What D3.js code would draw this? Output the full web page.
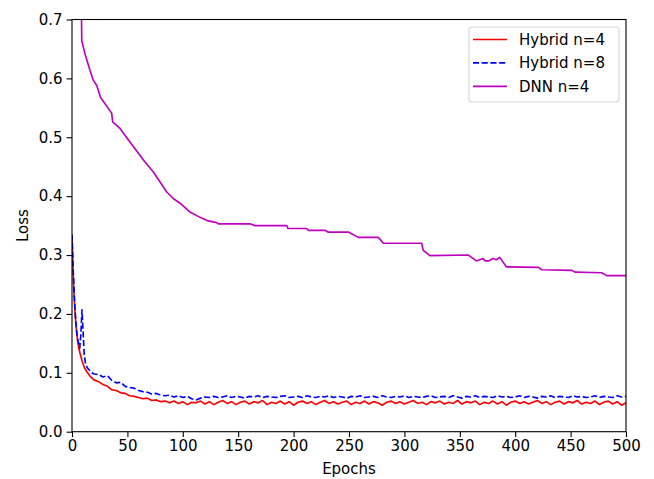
<!DOCTYPE html>
<html>
<head>
    <title>Loss vs Epochs</title>
    <style>
        body { margin: 0; background: #fff; }
        text { font-family: "DejaVu Sans", sans-serif; fill: #000; }
        .axis path, .axis line { stroke: #000; }
    </style>
</head>
<body>
    <script src="https://d3js.org/d3.v7.min.js"></script>
    <script>
        // Chart size and plot area
        const width = 654;
        const height = 479;
        const margin = {top: 19.5, right: 28, bottom: 47.3, left: 72};

        // Tick values
        const xTicks = [0, 50, 100, 150, 200, 250, 300, 350, 400, 450, 500];
        const yTicks = [0.0, 0.1, 0.2, 0.3, 0.4, 0.5, 0.6, 0.7];

        // Hybrid runs: one value per epoch for 0..20, then every 4 epochs
        const hybridEpochs = d3.range(0, 21).concat(d3.range(24, 501, 4));

        const hybrid4Loss = [
            0.335, 0.270, 0.225, 0.195, 0.172, 0.155, 0.143, 0.135, 0.128, 0.121,
            0.115, 0.110, 0.106, 0.103, 0.100, 0.098, 0.095, 0.093, 0.091, 0.089, 0.088,
            0.085, 0.080, 0.077, 0.071, 0.070, 0.066, 0.065, 0.061, 0.060, 0.058,
            0.056, 0.057, 0.053, 0.054, 0.051, 0.052, 0.049, 0.052, 0.048, 0.051,
            0.046, 0.050, 0.049, 0.052, 0.047, 0.051, 0.046, 0.050, 0.053, 0.048,
            0.051, 0.046, 0.050, 0.052, 0.047, 0.051, 0.049, 0.053, 0.046, 0.050,
            0.048, 0.052, 0.047, 0.051, 0.045, 0.050, 0.052, 0.048, 0.051, 0.046,
            0.050, 0.053, 0.048, 0.051, 0.047, 0.050, 0.052, 0.046, 0.050, 0.048,
            0.052, 0.047, 0.051, 0.049, 0.045, 0.050, 0.052, 0.048, 0.051, 0.047,
            0.050, 0.053, 0.048, 0.050, 0.046, 0.051, 0.049, 0.052, 0.047, 0.050,
            0.048, 0.053, 0.047, 0.051, 0.049, 0.052, 0.046, 0.050, 0.048, 0.052,
            0.047, 0.051, 0.045, 0.050, 0.052, 0.048, 0.051, 0.047, 0.050, 0.053,
            0.048, 0.051, 0.046, 0.050, 0.052, 0.047, 0.051, 0.049, 0.053, 0.047,
            0.050, 0.048, 0.052, 0.046, 0.050, 0.052, 0.047, 0.051, 0.045, 0.049
        ];

        const hybrid8Loss = [
            0.335, 0.280, 0.235, 0.200, 0.175, 0.158, 0.150, 0.142, 0.165, 0.207,
            0.170, 0.132, 0.118, 0.112, 0.108, 0.106, 0.104, 0.102, 0.100, 0.099, 0.098,
            0.097, 0.093, 0.095, 0.087, 0.083, 0.084, 0.077, 0.075, 0.074, 0.070,
            0.068, 0.067, 0.064, 0.065, 0.062, 0.061, 0.062, 0.059, 0.061, 0.058,
            0.060, 0.056, 0.054, 0.057, 0.059, 0.058, 0.060, 0.058, 0.059, 0.061,
            0.058, 0.060, 0.059, 0.057, 0.060, 0.059, 0.061, 0.058, 0.060, 0.059,
            0.058, 0.060, 0.061, 0.058, 0.059, 0.060, 0.058, 0.061, 0.059, 0.058,
            0.060, 0.059, 0.061, 0.058, 0.060, 0.059, 0.057, 0.060, 0.059, 0.061,
            0.058, 0.059, 0.060, 0.058, 0.061, 0.059, 0.058, 0.060, 0.059, 0.061,
            0.058, 0.060, 0.059, 0.058, 0.060, 0.061, 0.058, 0.059, 0.060, 0.058,
            0.061, 0.059, 0.057, 0.060, 0.059, 0.061, 0.058, 0.060, 0.059, 0.058,
            0.061, 0.059, 0.060, 0.058, 0.059, 0.061, 0.058, 0.060, 0.059, 0.057,
            0.060, 0.059, 0.061, 0.058, 0.060, 0.059, 0.058, 0.061, 0.059, 0.060,
            0.058, 0.059, 0.061, 0.058, 0.060, 0.059, 0.058, 0.061, 0.059, 0.060
        ];

        // DNN run: breakpoints
        const dnnEpochs = [
            7, 8.8, 11.7, 16.2, 19.2, 22.3, 25.9, 35.8, 36.7, 43.3, 52.3, 65.9, 73.4,
            85.5, 91.4, 97.5, 106.5, 115.5, 123, 130.6, 132, 160.6, 165, 193.8, 195,
            211.8, 213.5, 228.3, 231, 249.4, 258.4, 276.4, 281, 315.6, 317, 323, 357.7,
            365, 368, 371, 373, 376, 380, 383, 386, 392, 421, 424, 451, 454, 478, 482.6, 500
        ];
        const dnnLoss = [
            1.000, 0.664, 0.642, 0.614, 0.597, 0.588, 0.567, 0.541, 0.526, 0.515, 0.492, 0.458, 0.441,
            0.407, 0.396, 0.388, 0.373, 0.364, 0.358, 0.355, 0.353, 0.353, 0.350, 0.350, 0.345,
            0.345, 0.342, 0.342, 0.339, 0.339, 0.330, 0.330, 0.320, 0.320, 0.308, 0.299, 0.300,
            0.290, 0.292, 0.294, 0.290, 0.290, 0.294, 0.292, 0.296, 0.280, 0.279, 0.275, 0.274, 0.271, 0.270, 0.265, 0.265
        ];

        const series = [
            {name: "Hybrid n=4", epochs: hybridEpochs, loss: hybrid4Loss, color: "#ff0000", dash: null},
            {name: "Hybrid n=8", epochs: hybridEpochs, loss: hybrid8Loss, color: "#0000ff", dash: "6.1,2.6"},
            {name: "DNN n=4", epochs: dnnEpochs, loss: dnnLoss, color: "#bf00bf", dash: null}
        ];

        const innerW = width - margin.left - margin.right;
        const innerH = height - margin.top - margin.bottom;

        const svg = d3.select("body")
            .append("svg")
            .attr("width", width)
            .attr("height", height);

        const g = svg.append("g")
            .attr("transform", `translate(${margin.left},${margin.top})`);

        const x = d3.scaleLinear().domain([0, 500]).range([0, innerW]);
        const y = d3.scaleLinear().domain([0, 0.7]).range([innerH, 0]);

        g.append("clipPath")
            .attr("id", "plot-clip")
            .append("rect")
            .attr("width", innerW)
            .attr("height", innerH);

        const line = d3.line()
            .defined(d => d[1] != null)
            .x(d => x(d[0]))
            .y(d => y(d[1]));

        // Draw the curves
        g.append("g")
            .attr("clip-path", "url(#plot-clip)")
            .selectAll("path")
            .data(series)
            .enter()
            .append("path")
            .attr("d", s => line(s.epochs.map((e, i) => [e, s.loss[i]])))
            .attr("fill", "none")
            .attr("stroke", s => s.color)
            .attr("stroke-width", 1.65)
            .attr("stroke-dasharray", s => s.dash)
            .attr("stroke-linejoin", "round");

        // Axes
        const xAxis = g.append("g")
            .attr("class", "axis")
            .attr("transform", `translate(0,${innerH})`)
            .call(d3.axisBottom(x).tickValues(xTicks).tickSize(5.4).tickPadding(3.5).tickFormat(d3.format("d")));

        const yAxis = g.append("g")
            .attr("class", "axis")
            .call(d3.axisLeft(y).tickValues(yTicks).tickSize(5.4).tickPadding(4).tickFormat(d3.format(".1f")));

        [xAxis, yAxis].forEach(a => {
            a.select(".domain").remove();
            a.selectAll("line").attr("stroke-width", 1.1);
            a.selectAll("text").style("font-size", "15px").attr("fill", "#000");
        });

        // Frame
        g.append("rect")
            .attr("width", innerW)
            .attr("height", innerH)
            .attr("fill", "none")
            .attr("stroke", "#000")
            .attr("stroke-width", 1.1);

        // Axis labels
        svg.append("text")
            .attr("x", margin.left + innerW / 2)
            .attr("y", 474)
            .attr("text-anchor", "middle")
            .style("font-size", "15px")
            .text("Epochs");

        svg.append("text")
            .attr("transform", `translate(28,${margin.top + innerH / 2}) rotate(-90)`)
            .attr("text-anchor", "middle")
            .style("font-size", "15px")
            .text("Loss");

        // Legend
        const legend = svg.append("g").attr("transform", "translate(469,27)");

        legend.append("rect")
            .attr("width", 150)
            .attr("height", 75)
            .attr("rx", 3)
            .attr("fill", "#fff")
            .attr("fill-opacity", 0.8)
            .attr("stroke", "#d6d6d6")
            .attr("stroke-width", 1.1);

        const rows = legend.selectAll(".row")
            .data(series)
            .enter()
            .append("g")
            .attr("transform", (d, i) => `translate(0,${12.5 + i * 23.4})`);

        rows.append("line")
            .attr("x1", 4)
            .attr("x2", 38)
            .attr("stroke", d => d.color)
            .attr("stroke-width", 1.65)
            .attr("stroke-dasharray", d => d.dash);

        rows.append("text")
            .attr("x", 50)
            .attr("dy", "0.36em")
            .style("font-size", "15px")
            .text(d => d.name);
    </script>
</body>
</html>
